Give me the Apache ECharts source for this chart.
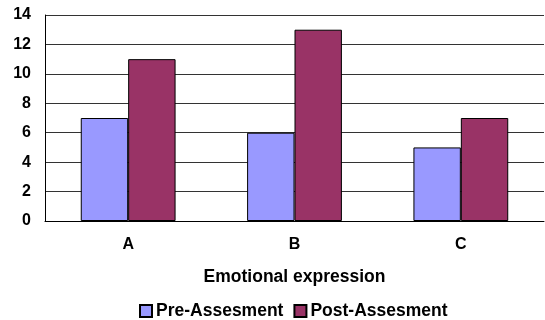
<!DOCTYPE html>
<html>
<head>
<meta charset="utf-8">
<script src="https://cdn.jsdelivr.net/npm/echarts@6/dist/echarts.min.js"></script>
<style>
  html, body { margin: 0; padding: 0; background: #fff; }
  #chart { width: 545px; height: 320px; }
</style>
</head>
<body>
<div id="chart"></div>
<script>
// Scores per emotional-expression group, before and after assessment
const categories = ['A', 'B', 'C'];
const preAssessment = [7, 6, 5];
const postAssessment = [11, 13, 7];
const seriesNames = ['Pre-Assesment', 'Post-Assesment'];
const xAxisTitle = 'Emotional expression';

const FONT = '"Liberation Sans", Arial, sans-serif';

const chart = echarts.init(document.getElementById('chart'), null, { renderer: 'canvas' });

chart.setOption({
  animation: false,
  backgroundColor: '#ffffff',
  grid: { left: 45, right: 1, top: 15, bottom: 99, containLabel: false },
  legend: {
    data: seriesNames,
    top: 302,
    left: 139,
    padding: 0,
    itemWidth: 12,
    itemHeight: 12,
    itemGap: 10,
    icon: 'rect',
    textStyle: { fontFamily: FONT, fontWeight: 'bold', fontSize: 17.5, color: '#000', padding: [0, 0, 0, -1] }
  },
  xAxis: {
    type: 'category',
    data: categories,
    name: xAxisTitle,
    nameLocation: 'middle',
    nameGap: 47,
    nameTextStyle: { fontFamily: FONT, fontWeight: 'bold', fontSize: 17.5, color: '#000' },
    axisLine: { lineStyle: { color: '#000', width: 1 } },
    axisTick: { show: false },
    axisLabel: { fontFamily: FONT, fontWeight: 'bold', fontSize: 16, color: '#000', margin: 16 }
  },
  yAxis: {
    type: 'value',
    min: 0,
    max: 14,
    interval: 2,
    axisLine: { show: true, lineStyle: { color: '#000', width: 1 } },
    axisTick: { show: false },
    splitLine: { lineStyle: { color: '#333', width: 1 } },
    axisLabel: { fontFamily: FONT, fontWeight: 'bold', fontSize: 16, color: '#000', margin: 14 }
  },
  series: [
    {
      name: seriesNames[0],
      type: 'bar',
      data: preAssessment,
      barGap: '0%',
      barCategoryGap: '43%',
      itemStyle: { color: '#9999FF', borderColor: '#000', borderWidth: 1 }
    },
    {
      name: seriesNames[1],
      type: 'bar',
      data: postAssessment,
      itemStyle: { color: '#993366', borderColor: '#000', borderWidth: 1 }
    }
  ]
});
</script>
</body>
</html>
